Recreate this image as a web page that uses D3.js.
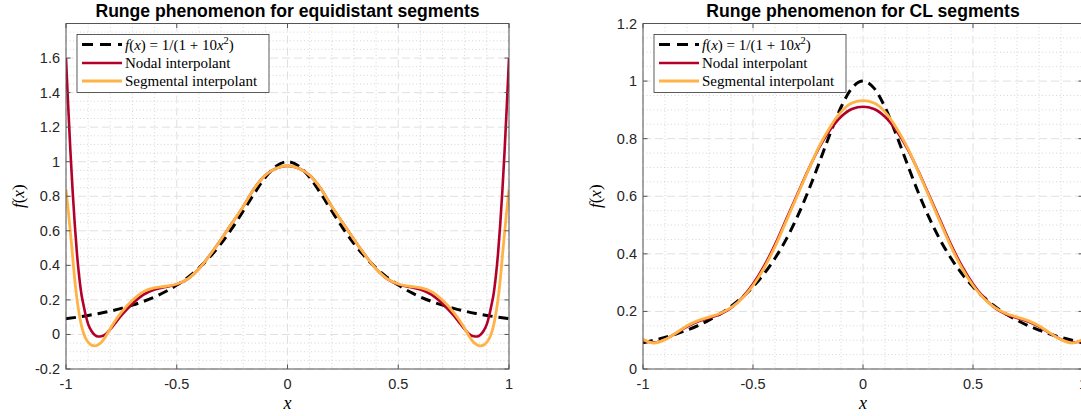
<!DOCTYPE html>
<meta charset="utf-8">
<style>
    body {
        margin: 0;
        padding: 0;
        background: #fff;
    }
    svg { display: block; }
    .tick-label {
        font-family: "Liberation Sans", Arial, sans-serif;
        font-size: 14.5px;
        fill: #262626;
    }
    .title {
        font-family: "Liberation Sans", Arial, sans-serif;
        font-size: 17.6px;
        font-weight: bold;
        fill: #000;
    }
    .tex {
        font-family: "Liberation Serif", "Times New Roman", serif;
        fill: #000;
    }
</style>
<body>
<script src="https://cdnjs.cloudflare.com/ajax/libs/d3/7.8.5/d3.min.js"></script>
<script>
    // exact function, sampled every 0.05
    var xF = [-1,-0.95,-0.9,-0.85,-0.8,-0.75,-0.7,-0.65,-0.6,-0.55,-0.5,-0.45,-0.4,-0.35,-0.3,-0.25,-0.2,-0.15,-0.1,-0.05,0,
              0.05,0.1,0.15,0.2,0.25,0.3,0.35,0.4,0.45,0.5,0.55,0.6,0.65,0.7,0.75,0.8,0.85,0.9,0.95,1];
    var fVals = [0.0909,0.0998,0.1099,0.1216,0.1351,0.1509,0.1695,0.1914,0.2174,0.2484,0.2857,0.3306,0.3846,0.4494,0.5263,0.6154,0.7143,0.8163,0.9091,0.9756,1.0,
                 0.9756,0.9091,0.8163,0.7143,0.6154,0.5263,0.4494,0.3846,0.3306,0.2857,0.2484,0.2174,0.1914,0.1695,0.1509,0.1351,0.1216,0.1099,0.0998,0.0909];

    // equidistant segments (denser near the ends)
    var xEq = [-1,-0.99,-0.98,-0.97,-0.96,-0.95,-0.94,-0.93,-0.92,-0.91,-0.9,-0.885,-0.87,-0.855,-0.84,-0.82,-0.8,-0.78,-0.75,-0.7,-0.65,-0.6,-0.55,-0.5,-0.45,-0.4,-0.35,-0.3,-0.25,-0.2,-0.15,-0.1,-0.05,0,
               0.05,0.1,0.15,0.2,0.25,0.3,0.35,0.4,0.45,0.5,0.55,0.6,0.65,0.7,0.75,0.78,0.8,0.82,0.84,0.855,0.87,0.885,0.9,0.91,0.92,0.93,0.94,0.95,0.96,0.97,0.98,0.99,1];
    var nodalEq = [1.60,1.32,1.06,0.83,0.63,0.46,0.33,0.23,0.165,0.105,0.06,0.02,-0.003,-0.012,-0.01,0.002,0.03,0.062,0.11,0.178,0.23,0.26,0.275,0.29,0.322,0.38,0.46,0.55,0.645,0.74,0.845,0.922,0.962,0.976,
                   0.962,0.922,0.845,0.74,0.645,0.55,0.46,0.38,0.322,0.29,0.275,0.26,0.23,0.178,0.11,0.062,0.03,0.002,-0.01,-0.012,-0.003,0.02,0.06,0.105,0.165,0.23,0.33,0.46,0.63,0.83,1.06,1.32,1.60];
    var segEq = [0.84,0.72,0.59,0.45,0.31,0.20,0.115,0.05,0.005,-0.025,-0.045,-0.062,-0.066,-0.06,-0.045,-0.01,0.035,0.075,0.128,0.198,0.248,0.27,0.279,0.292,0.322,0.38,0.46,0.55,0.645,0.74,0.845,0.922,0.962,0.978,
                 0.962,0.922,0.845,0.74,0.645,0.55,0.46,0.38,0.322,0.292,0.279,0.27,0.248,0.198,0.128,0.075,0.035,-0.01,-0.045,-0.06,-0.066,-0.062,-0.045,-0.025,0.005,0.05,0.115,0.20,0.31,0.45,0.59,0.72,0.84];

    // CL segments
    var xCL = xF;
    var nodalCL = [0.098,0.092,0.103,0.124,0.147,0.165,0.177,0.19,0.212,0.247,0.295,0.357,0.432,0.518,0.604,0.69,0.768,0.83,0.876,0.903,0.911,
                   0.903,0.876,0.83,0.768,0.69,0.604,0.518,0.432,0.357,0.295,0.247,0.212,0.19,0.177,0.165,0.147,0.124,0.103,0.092,0.098];
    var segCL = [0.103,0.09,0.102,0.125,0.15,0.168,0.18,0.193,0.213,0.245,0.29,0.35,0.425,0.512,0.6,0.688,0.772,0.84,0.893,0.924,0.932,
                 0.924,0.893,0.84,0.772,0.688,0.6,0.512,0.425,0.35,0.29,0.245,0.213,0.193,0.18,0.168,0.15,0.125,0.102,0.09,0.103];

    var xTicks = [-1, -0.5, 0, 0.5, 1];
    var xTickLabels = ["-1", "-0.5", "0", "0.5", "1"];
    var yTicksEq = [-0.2, 0, 0.2, 0.4, 0.6, 0.8, 1, 1.2, 1.4, 1.6];
    var yTickLabelsEq = ["-0.2", "0", "0.2", "0.4", "0.6", "0.8", "1", "1.2", "1.4", "1.6"];
    var yTicksCL = [0, 0.2, 0.4, 0.6, 0.8, 1, 1.2];
    var yTickLabelsCL = ["0", "0.2", "0.4", "0.6", "0.8", "1", "1.2"];

    var titles = ["Runge phenomenon for equidistant segments", "Runge phenomenon for CL segments"];
    var legendLabels = ["Nodal interpolant", "Segmental interpolant"];

    var red = "#b3002b", orange = "#ffb347";
    var W = 1081, H = 416;

    var svg = d3.select("body").append("svg")
        .attr("width", W)
        .attr("height", H);

    function panel(cfg) {
        var x = d3.scaleLinear().domain([-1, 1]).range([cfg.left, cfg.right]);
        var y = d3.scaleLinear().domain(cfg.ydom).range([cfg.bottom, cfg.top]);
        var g = svg.append("g");

        g.append("rect")
            .attr("x", cfg.left).attr("y", cfg.top)
            .attr("width", cfg.right - cfg.left).attr("height", cfg.bottom - cfg.top)
            .attr("fill", "#fff");

        // minor grid
        var xMinor = d3.range(-0.9, 1, 0.1).filter(function(v) { return Math.abs(v * 2 - Math.round(v * 2)) > 1e-6; });
        var yMinor = d3.range(cfg.ydom[0], cfg.ydom[1] + 1e-9, 0.05).filter(function(v) {
            return Math.abs(v * 5 - Math.round(v * 5)) > 1e-6;
        });
        g.selectAll(".xminor").data(xMinor).enter().append("line")
            .attr("x1", d => x(d)).attr("x2", d => x(d))
            .attr("y1", cfg.top).attr("y2", cfg.bottom)
            .attr("stroke", "#cdcdcd").attr("stroke-width", 0.8).attr("stroke-dasharray", "1,2.5");
        g.selectAll(".yminor").data(yMinor).enter().append("line")
            .attr("x1", cfg.left).attr("x2", cfg.right)
            .attr("y1", d => y(d)).attr("y2", d => y(d))
            .attr("stroke", "#cdcdcd").attr("stroke-width", 0.8).attr("stroke-dasharray", "1,2.5");

        // major grid
        g.selectAll(".xmajor").data(xTicks).enter().append("line")
            .attr("x1", d => x(d)).attr("x2", d => x(d))
            .attr("y1", cfg.top).attr("y2", cfg.bottom)
            .attr("stroke", "#e0e0e0").attr("stroke-width", 1).attr("stroke-dasharray", "8,4");
        g.selectAll(".ymajor").data(cfg.yTicks).enter().append("line")
            .attr("x1", cfg.left).attr("x2", cfg.right)
            .attr("y1", d => y(d)).attr("y2", d => y(d))
            .attr("stroke", "#e0e0e0").attr("stroke-width", 1).attr("stroke-dasharray", "8,4");

        // curves
        var clipId = "clip" + cfg.id;
        svg.append("clipPath").attr("id", clipId).append("rect")
            .attr("x", cfg.left).attr("y", cfg.top)
            .attr("width", cfg.right - cfg.left).attr("height", cfg.bottom - cfg.top);
        var curves = g.append("g").attr("clip-path", "url(#" + clipId + ")");

        function line(xs) {
            return d3.line()
                .x(function(d, i) { return x(xs[i]); })
                .y(function(d) { return y(d); })
                .curve(d3.curveMonotoneX);
        }
        curves.append("path").datum(fVals)
            .attr("d", line(xF))
            .attr("fill", "none").attr("stroke", "#000")
            .attr("stroke-width", 3).attr("stroke-dasharray", "10,6");
        curves.append("path").datum(cfg.nodal)
            .attr("d", line(cfg.xs))
            .attr("fill", "none").attr("stroke", red).attr("stroke-width", 2.6);
        curves.append("path").datum(cfg.seg)
            .attr("d", line(cfg.xs))
            .attr("fill", "none").attr("stroke", orange).attr("stroke-width", 2.8);

        // box and ticks
        g.append("rect")
            .attr("x", cfg.left).attr("y", cfg.top)
            .attr("width", cfg.right - cfg.left).attr("height", cfg.bottom - cfg.top)
            .attr("fill", "none").attr("stroke", "#555").attr("stroke-width", 1);
        var tl = 4.5;
        xTicks.forEach(function(v) {
            g.append("line").attr("x1", x(v)).attr("x2", x(v)).attr("y1", cfg.bottom).attr("y2", cfg.bottom - tl).attr("stroke", "#555");
            g.append("line").attr("x1", x(v)).attr("x2", x(v)).attr("y1", cfg.top).attr("y2", cfg.top + tl).attr("stroke", "#555");
        });
        cfg.yTicks.forEach(function(v) {
            g.append("line").attr("x1", cfg.left).attr("x2", cfg.left + tl).attr("y1", y(v)).attr("y2", y(v)).attr("stroke", "#555");
            g.append("line").attr("x1", cfg.right).attr("x2", cfg.right - tl).attr("y1", y(v)).attr("y2", y(v)).attr("stroke", "#555");
        });

        // tick labels
        g.selectAll(".xl").data(xTicks).enter().append("text")
            .attr("class", "tick-label")
            .attr("x", d => x(d)).attr("y", cfg.bottom + 20)
            .attr("text-anchor", "middle")
            .text(function(d, i) { return xTickLabels[i]; });
        g.selectAll(".yl").data(cfg.yTicks).enter().append("text")
            .attr("class", "tick-label")
            .attr("x", cfg.left - 6).attr("y", d => y(d) + 5)
            .attr("text-anchor", "end")
            .text(function(d, i) { return cfg.yTickLabels[i]; });

        // title and axis labels
        g.append("text").attr("class", "title")
            .attr("x", (cfg.left + cfg.right) / 2).attr("y", 17)
            .attr("text-anchor", "middle")
            .text(cfg.title);
        g.append("text").attr("class", "tex")
            .attr("x", (cfg.left + cfg.right) / 2).attr("y", 409)
            .attr("text-anchor", "middle")
            .style("font-size", "18px").style("font-style", "italic")
            .text("x");
        var yl = g.append("text").attr("class", "tex")
            .attr("transform", "translate(" + (cfg.left - 42) + "," + ((cfg.top + cfg.bottom) / 2) + ") rotate(-90)")
            .attr("text-anchor", "middle")
            .style("font-size", "17px");
        yl.append("tspan").style("font-style", "italic").text("f");
        yl.append("tspan").text("(");
        yl.append("tspan").style("font-style", "italic").text("x");
        yl.append("tspan").text(")");

        // legend
        var lx = cfg.left + 11, ly = cfg.top + 11;
        var lg = g.append("g").attr("transform", "translate(" + lx + "," + ly + ")");
        lg.append("rect").attr("width", 192).attr("height", 58)
            .attr("fill", "#fff").attr("stroke", "#333").attr("stroke-width", 0.8);
        var rows = [10, 28.5, 46.5];
        lg.append("line").attr("x1", 5).attr("x2", 45).attr("y1", rows[0]).attr("y2", rows[0])
            .attr("stroke", "#000").attr("stroke-width", 3).attr("stroke-dasharray", "11,7");
        lg.append("line").attr("x1", 5).attr("x2", 45).attr("y1", rows[1]).attr("y2", rows[1])
            .attr("stroke", red).attr("stroke-width", 2.6);
        lg.append("line").attr("x1", 5).attr("x2", 45).attr("y1", rows[2]).attr("y2", rows[2])
            .attr("stroke", orange).attr("stroke-width", 2.8);

        var t0 = lg.append("text").attr("class", "tex").attr("x", 48).attr("y", rows[0] + 5).style("font-size", "15px");
        t0.append("tspan").style("font-style", "italic").text("f");
        t0.append("tspan").text("(");
        t0.append("tspan").style("font-style", "italic").text("x");
        t0.append("tspan").text(") = 1/(1 + 10");
        t0.append("tspan").style("font-style", "italic").text("x");
        t0.append("tspan").attr("dy", -6).style("font-size", "10.5px").text("2");
        t0.append("tspan").attr("dy", 6).text(")");
        legendLabels.forEach(function(s, i) {
            lg.append("text").attr("class", "tex").attr("x", 48).attr("y", rows[i + 1] + 5)
                .style("font-size", "15px").text(s);
        });
    }

    panel({id: 0, left: 66, right: 509, top: 23.5, bottom: 369, ydom: [-0.2, 1.8],
           yTicks: yTicksEq, yTickLabels: yTickLabelsEq, xs: xEq, nodal: nodalEq, seg: segEq, title: titles[0]});
    panel({id: 1, left: 643, right: 1083, top: 23.5, bottom: 369, ydom: [0, 1.2],
           yTicks: yTicksCL, yTickLabels: yTickLabelsCL, xs: xCL, nodal: nodalCL, seg: segCL, title: titles[1]});
</script>
</body>
</html>
